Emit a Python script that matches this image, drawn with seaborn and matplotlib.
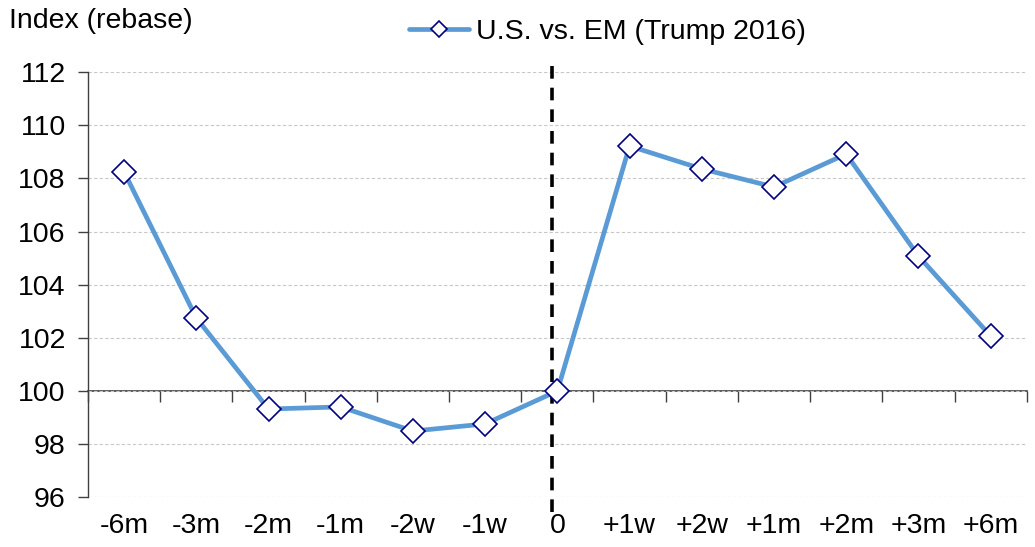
import numpy as np
import pandas as pd
import matplotlib
matplotlib.use("Agg")
import matplotlib.pyplot as plt
import seaborn as sns

# ==========================================================
# Data
# ==========================================================

periods = ["-6m", "-3m", "-2m", "-1m", "-2w", "-1w", "0",
           "+1w", "+2w", "+1m", "+2m", "+3m", "+6m"]
us_vs_em = [108.25, 102.75, 99.32, 99.40, 98.49, 98.76, 100.0,
            109.22, 108.36, 107.68, 108.92, 105.08, 102.07]
y_ticks = [96, 98, 100, 102, 104, 106, 108, 110, 112]
series_name = "U.S. vs. EM (Trump 2016)"
event_pos = 5.92  # election day marker, just left of "0"

LINE_COLOR = "#5B9BD5"
EDGE_COLOR = "#000080"

# ==========================================================
# Plot
# ==========================================================

sns.set_theme(style="white")
plt.rcParams["font.family"] = ["Liberation Sans", "DejaVu Sans"]
plt.rcParams["text.color"] = "black"
plt.rcParams["xtick.color"] = "black"
plt.rcParams["ytick.color"] = "black"

df = pd.DataFrame({"period": periods, "value": us_vs_em})

fig, ax = plt.subplots(figsize=(10.35, 5.47), dpi=100)
fig.subplots_adjust(left=0.085, right=0.992, top=0.868, bottom=0.091)

sns.lineplot(
    data=df, x="period", y="value", sort=False, ax=ax,
    color=LINE_COLOR, linewidth=3.4, marker="D", markersize=12,
    markerfacecolor="white", markeredgecolor=EDGE_COLOR,
    markeredgewidth=1.2, label=series_name, zorder=4
)

ax.set_xlim(-0.5, len(periods) - 0.5)
ax.set_ylim(y_ticks[0], y_ticks[-1])
ax.set_yticks(y_ticks)
ax.set_xlabel("")
ax.set_ylabel("")

# grid and spines
ax.yaxis.grid(True, color="#C8C8C8", linestyle=(0, (3, 2)), linewidth=0.8)
ax.xaxis.grid(False)
for side in ["top", "right", "bottom"]:
    ax.spines[side].set_visible(False)
ax.spines["left"].set_color("#404040")
ax.spines["left"].set_linewidth(1)

ax.tick_params(axis="y", which="major", left=True, length=7, width=1,
               color="#404040", labelsize=20.5, pad=9, labelcolor="black")
ax.tick_params(axis="x", which="major", bottom=False, length=0,
               labelsize=20.5, pad=11, labelcolor="black")

# category axis crossing at 100
frac = (100 - y_ticks[0]) / (y_ticks[-1] - y_ticks[0])
sec = ax.secondary_xaxis(frac)
sec.set_xticks(np.arange(-0.5, len(periods), 1.0))
sec.set_xticklabels([])
sec.tick_params(axis="x", direction="out", length=8, width=1, color="#404040")
sec.spines["bottom"].set_color("#404040")
sec.spines["bottom"].set_linewidth(1.2)

# event line
ax.axvline(event_pos, ymin=-0.035, ymax=1.016, color="black", linewidth=2.6,
           linestyle=(0, (3.5, 2.5)), clip_on=False, zorder=3)

# legend and axis title
ax.legend(loc="upper center", bbox_to_anchor=(0.553, 1.185), frameon=False,
          fontsize=20.5, handlelength=2.1, handletextpad=0.25, markerscale=0.7)
fig.text(0.009, 0.962, "Index (rebase)", fontsize=20.5, va="center", ha="left")

fig.savefig("out.png", dpi=100)
plt.close(fig)
